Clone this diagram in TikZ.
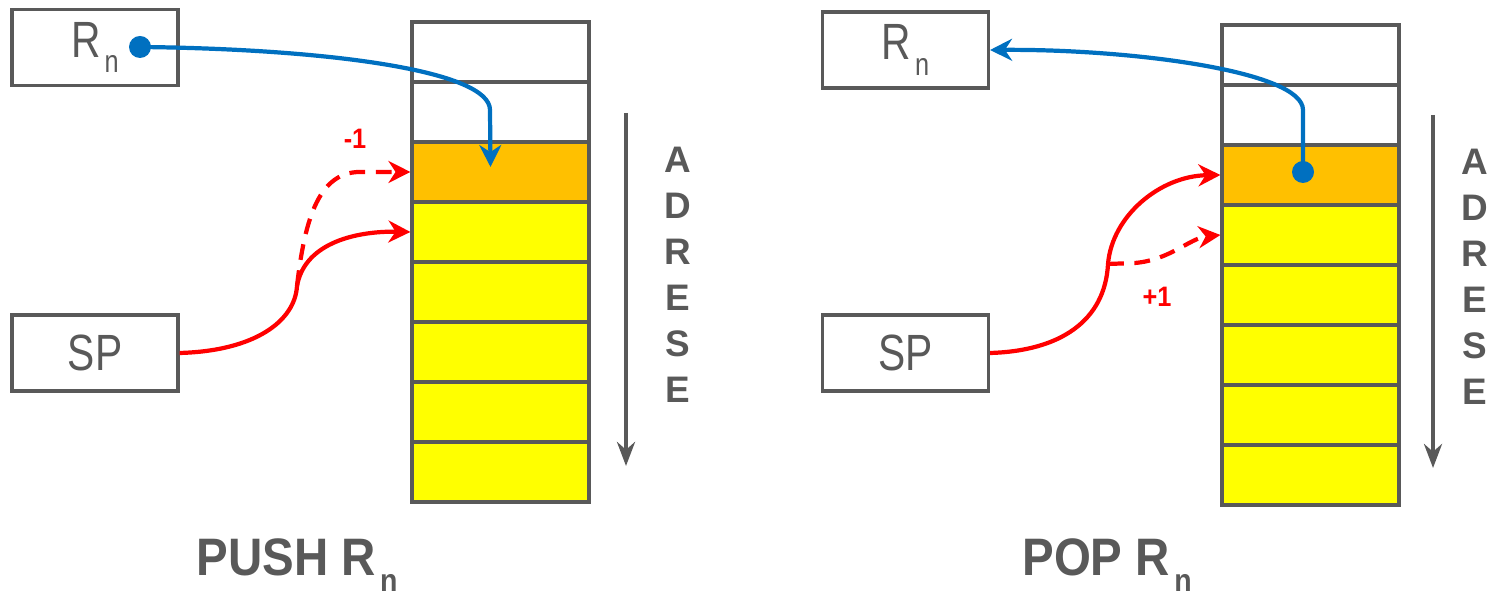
\documentclass[tikz,border=0pt]{standalone}
\usepackage{fontspec}
\setmainfont{Liberation Sans}
\newfontfamily\narrowfont[FakeStretch=0.8]{Liberation Sans}
\newfontfamily\titlefont[FakeStretch=0.9]{Liberation Sans}
\usetikzlibrary{arrows.meta, positioning, calc}
\definecolor{stkgray}{HTML}{595959}
\definecolor{stkorange}{HTML}{FFC000}
\definecolor{stkyellow}{HTML}{FFFF00}
\definecolor{stkblue}{HTML}{0070C0}
\definecolor{stkred}{HTML}{FF0000}
\newcommand{\regsub}[1]{\kern0.08em\raisebox{-0.3em}{\fontsize{9}{9}\selectfont #1}}

\begin{document}
\begin{tikzpicture}[
  every node/.style={text=stkgray},
  regnode/.style={rectangle, draw=stkgray, line width=0.9pt, fill=white, minimum width=1.66cm, minimum height=0.76cm, font=\narrowfont\fontsize{14.5}{16}\selectfont},
  cellnode/.style={rectangle, draw=stkgray, line width=0.9pt, minimum width=1.77cm, minimum height=0.6cm, inner sep=0pt},
  dotnode/.style={circle, fill=stkblue, inner sep=0pt, minimum size=0.22cm},
  adrnode/.style={font=\fontsize{10.5}{13.1}\selectfont\bfseries, align=center},
  titlenode/.style={font=\titlefont\fontsize{15}{17}\selectfont\bfseries},
  stepnum/.style={font=\titlefont\fontsize{8}{9}\selectfont\bfseries, text=stkred},
  bluearrow/.style={-{Stealth[length=2.2mm, width=2.2mm]}, stkblue, line width=1.2pt},
  redarrow/.style={-{Stealth[length=2.2mm, width=2.2mm]}, stkred, line width=1.2pt},
  adrarrow/.style={-{Stealth[length=2.4mm, width=1.8mm]}, stkgray, line width=1.3pt},
]
\useasboundingbox (0,0) rectangle (14.93,5.96);

% Left side: PUSH
\node[regnode] (rnA) at (0.95, 5.485) {R\regsub{n}};
\node[regnode] (spA) at (0.95, 2.43) {SP};

\foreach \i/\col in {1/white, 2/white, 3/stkorange, 4/stkyellow, 5/stkyellow, 6/stkyellow, 7/stkyellow, 8/stkyellow}
  \node[cellnode, fill=\col] (pa\i) at (5.005, 5.44-0.6*\i+0.6) {};

\coordinate (adrtopA) at (6.26, 4.83);
\coordinate (adrbotA) at (6.26, 1.30);
\draw[adrarrow] (adrtopA) -- (adrbotA);
\node[adrnode] (adrA) at (6.78, 3.21) {A\\D\\R\\E\\S\\E};

\node[dotnode] (dotA) at (1.40, 5.49) {};
\coordinate (pushtip) at ($(pa3.center)+(-0.1,0.05)$);
\draw[bluearrow] (dotA.center) .. controls (3.3,5.47) and (4.9,5.25) .. (4.9,4.86) -- (pushtip);

\coordinate (pushfork) at (2.97, 3.1);
\draw[stkred, line width=1.2pt] (spA.east) .. controls (2.55,2.45) and (2.95,2.75) .. (pushfork);
\draw[redarrow] (pushfork) .. controls (3.05,3.55) and (3.6,3.65) .. (pa4.west);
\draw[redarrow, dash pattern=on 4.5pt off 3pt] (pushfork) .. controls (3.05,3.8) and (3.2,4.24) .. (3.6,4.24) -- (pa3.west);
\node[stepnum] (minusA) at (3.55, 4.57) {-1};

\node[titlenode] (pushlbl) at (2.97, 0.31) {PUSH R\regsub{n}};

% Right side: POP
\node[regnode] (rnB) at (9.055, 5.46) {R\regsub{n}};
\node[regnode] (spB) at (9.055, 2.43) {SP};

\foreach \i/\col in {1/white, 2/white, 3/stkorange, 4/stkyellow, 5/stkyellow, 6/stkyellow, 7/stkyellow, 8/stkyellow}
  \node[cellnode, fill=\col] (pb\i) at (13.105, 5.41-0.6*\i+0.6) {};

\coordinate (adrtopB) at (14.33, 4.81);
\coordinate (adrbotB) at (14.33, 1.28);
\draw[adrarrow] (adrtopB) -- (adrbotB);
\node[adrnode] (adrB) at (14.75, 3.19) {A\\D\\R\\E\\S\\E};

\node[dotnode] (dotB) at (13.03, 4.24) {};
\draw[bluearrow] (dotB.center) -- (13.03,4.86) .. controls (13.03,5.25) and (11.3,5.47) .. (rnB.east);

\coordinate (popfork) at (11.08, 3.32);
\draw[redarrow] (spB.east) .. controls (10.6,2.45) and (11.05,2.75) .. (popfork) .. controls (11.12,3.8) and (11.6,4.2) .. (pb3.west);
\draw[redarrow, dash pattern=on 4.5pt off 3pt] (popfork) -- (11.35,3.33) .. controls (11.7,3.36) and (11.9,3.58) .. (pb4.west);
\node[stepnum] (plusB) at (11.57, 2.99) {+1};

\node[titlenode] (poplbl) at (11.07, 0.31) {POP R\regsub{n}};

\end{tikzpicture}
\end{document}
